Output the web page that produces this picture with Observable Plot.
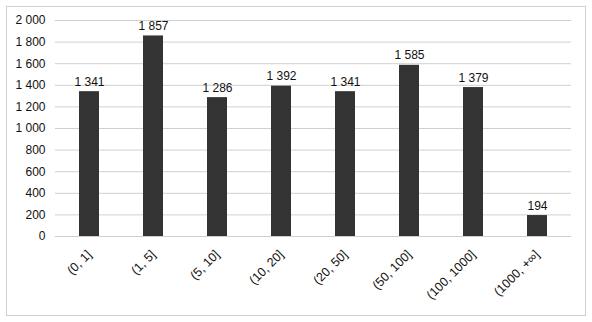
<!DOCTYPE html>
<html>
<head>
<meta charset="utf-8">
<script src="https://cdn.jsdelivr.net/npm/d3@7"></script>
<script src="https://cdn.jsdelivr.net/npm/@observablehq/plot@0.6"></script>
<style>
  html, body { margin: 0; padding: 0; background: #fff; }
  #wrap { position: relative; width: 592px; height: 322px; overflow: hidden; }
  #border { position: absolute; left: 6px; top: 6px; width: 578px; height: 308px; border: 1px solid #d0d0d0; pointer-events: none; }
</style>
</head>
<body>
<div id="wrap"><div id="border"></div></div>
<script>
const categories = ["(0, 1]", "(1, 5]", "(5, 10]", "(10, 20]", "(20, 50]", "(50, 100]", "(100, 1000]", "(1000, +∞]"];
const values = [1341, 1857, 1286, 1392, 1341, 1585, 1379, 194];
const yTicks = [0, 200, 400, 600, 800, 1000, 1200, 1400, 1600, 1800, 2000];

const data = categories.map((c, i) => ({category: c, value: values[i]}));
const fmt = d3.formatLocale({decimal: ",", thousands: " ", grouping: [3], currency: ["", ""]}).format(",d");

const chart = Plot.plot({
  width: 592,
  height: 322,
  marginLeft: 55,
  marginRight: 21,
  marginTop: 20,
  marginBottom: 86,
  style: {fontFamily: "'Liberation Sans', Arial, sans-serif", fontSize: "12px", color: "#111", background: "transparent"},
  x: {domain: categories, paddingInner: 0.69, paddingOuter: 0.345, label: null},
  y: {domain: [0, 2000], label: null},
  marks: [
    Plot.gridY(yTicks, {stroke: "#d0d0d0", strokeOpacity: 1, strokeWidth: 1}),
    Plot.axisY(yTicks, {tickSize: 0, tickPadding: 10, tickFormat: fmt, fontSize: 12}),
    Plot.axisX({tickSize: 0, tickPadding: 16, tickRotate: -45, fontSize: 12.5}),
    Plot.barY(data, {x: "category", y: "value", fill: "#333333"}),
    Plot.text(data, {x: "category", y: "value", text: d => fmt(d.value), lineAnchor: "bottom", dy: -6, fill: "#111", fontSize: 12})
  ]
});
document.getElementById("wrap").prepend(chart);
</script>
</body>
</html>
